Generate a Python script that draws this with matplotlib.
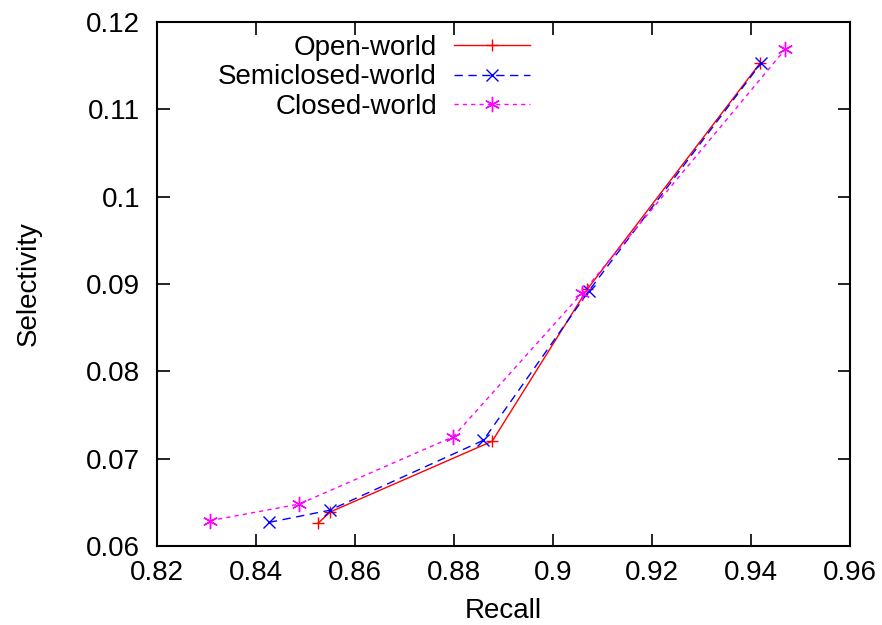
import matplotlib
matplotlib.use('Agg')
import matplotlib.pyplot as plt

plt.rcParams['font.family'] = ['Liberation Sans', 'DejaVu Sans']

# data
open_recall = [0.8525, 0.855, 0.8877, 0.9069, 0.9418]
open_sel = [0.0626, 0.0639, 0.0720, 0.0894, 0.1153]

semi_recall = [0.8426, 0.8549, 0.8859, 0.9072, 0.942]
semi_sel = [0.0627, 0.0641, 0.0721, 0.0892, 0.1153]

closed_recall = [0.8307, 0.8487, 0.8798, 0.9059, 0.9469]
closed_sel = [0.0629, 0.0648, 0.0725, 0.0890, 0.1169]

xticks = [0.82, 0.84, 0.86, 0.88, 0.9, 0.92, 0.94, 0.96]
xtick_labels = ['0.82', '0.84', '0.86', '0.88', '0.9', '0.92', '0.94', '0.96']
yticks = [0.06, 0.07, 0.08, 0.09, 0.1, 0.11, 0.12]
ytick_labels = ['0.06', '0.07', '0.08', '0.09', '0.1', '0.11', '0.12']

fs = 20

fig = plt.figure(figsize=(8.82, 6.25), dpi=100)
ax = fig.add_axes([0.178, 0.1264, 0.786, 0.8384])

ax.plot(open_recall, open_sel, color='#ff0000', lw=1, marker='+', ms=9, mew=1,
        label='Open-world')
ax.plot(semi_recall, semi_sel, color='#0000ff', lw=1, ls=(0, (6, 4)), marker='x',
        ms=9, mew=1, label='Semiclosed-world')
ax.plot(closed_recall, closed_sel, color='#ff00ff', lw=1, ls=(0, (3, 3)), marker=(6, 2, 0),
        ms=11, mew=1, label='Closed-world')

ax.set_xlim(0.82, 0.96)
ax.set_ylim(0.06, 0.12)
ax.set_xticks(xticks)
ax.set_xticklabels(xtick_labels)
ax.set_yticks(yticks)
ax.set_yticklabels(ytick_labels)
ax.tick_params(direction='in', length=9, width=1.2, top=True, right=True, labelsize=fs)
ax.tick_params(axis='y', pad=12)
ax.tick_params(axis='x', pad=10)
for s in ax.spines.values():
    s.set_linewidth(1.5)

ax.set_xlabel('Recall', fontsize=fs, labelpad=9)
ax.set_ylabel('Selectivity', fontsize=fs, labelpad=32)

leg = ax.legend(loc='upper right', bbox_to_anchor=(0.538, 0.975), frameon=False, fontsize=fs,
                markerfirst=False, handlelength=2.75, labelspacing=0.12, borderaxespad=0,
                borderpad=0, handletextpad=0.6)
for t in leg.get_texts():
    t.set_ha('right')
leg._legend_box.align = 'right'

fig.savefig('out.png', dpi=100)
